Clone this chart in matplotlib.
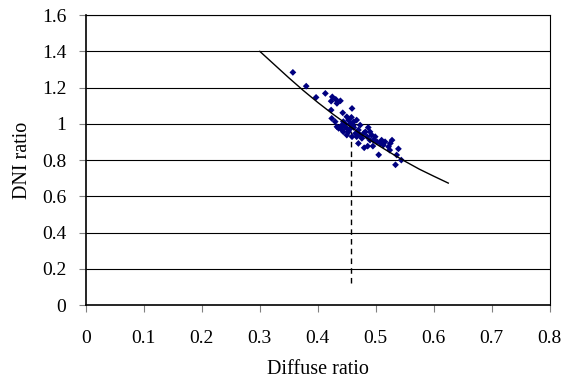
import numpy as np
import matplotlib
matplotlib.use("Agg")
import matplotlib.pyplot as plt

plt.rcParams['font.family'] = ['Liberation Serif', 'DejaVu Serif']

# measured points (diffuse ratio, DNI ratio)
diffuse = [0.357, 0.380, 0.397, 0.413, 0.425, 0.423, 0.431, 0.439, 0.433, 0.423,
           0.443, 0.459, 0.450, 0.424, 0.430, 0.444, 0.453, 0.467, 0.436, 0.442,
           0.447, 0.453, 0.462, 0.470, 0.473, 0.479, 0.487, 0.467, 0.476, 0.470,
           0.485, 0.493, 0.496, 0.486, 0.480, 0.502, 0.510, 0.516, 0.495, 0.522,
           0.528, 0.539, 0.524, 0.505, 0.536, 0.544, 0.534, 0.458, 0.439, 0.444,
           0.450, 0.456, 0.462, 0.465, 0.459, 0.450, 0.442, 0.433, 0.490, 0.499,
           0.508, 0.513, 0.525, 0.482, 0.490, 0.473, 0.447, 0.455, 0.461, 0.468]
dni = [1.284, 1.208, 1.146, 1.168, 1.149, 1.125, 1.135, 1.127, 1.113, 1.076,
       1.061, 1.085, 1.039, 1.030, 1.012, 1.012, 1.021, 1.021, 0.975, 0.966,
       0.984, 0.956, 0.980, 0.966, 0.993, 0.947, 0.980, 0.929, 0.920, 0.892,
       0.929, 0.938, 0.910, 0.877, 0.868, 0.901, 0.910, 0.901, 0.877, 0.874,
       0.910, 0.862, 0.855, 0.829, 0.828, 0.800, 0.774, 1.036, 0.984, 0.956,
       0.975, 1.002, 1.011, 0.947, 0.929, 0.938, 0.993, 0.984, 0.910, 0.929,
       0.892, 0.883, 0.892, 0.956, 0.956, 0.938, 1.000, 0.970, 0.990, 0.950]

# trend line
fit_x = [0.300, 0.325, 0.350, 0.375, 0.400, 0.425, 0.450, 0.475,
         0.500, 0.525, 0.550, 0.575, 0.600, 0.625]
fit_y = [1.400, 1.327, 1.254, 1.184, 1.118, 1.056, 0.998, 0.942,
         0.890, 0.841, 0.794, 0.750, 0.711, 0.673]

# dashed marker line
mark_x = 0.458
mark_y = [0.12, 0.99]

fig = plt.figure(figsize=(5.65, 3.78), dpi=100)
ax = fig.add_axes([0.152, 0.193, 0.821, 0.767])

for yv in np.arange(0.2, 1.61, 0.2):
    ax.axhline(yv, color='black', lw=0.8, zorder=1)

ax.plot([mark_x, mark_x], mark_y, color='black', lw=1.0, ls=(0, (4, 3)), zorder=2)
ax.scatter(diffuse, dni, marker='D', s=12, color='#000080', edgecolors='none', zorder=3)
ax.plot(fit_x, fit_y, color='black', lw=1.0, zorder=4)

ax.set_xlim(0, 0.8)
ax.set_ylim(0, 1.6)
ax.set_xticks(np.arange(0, 0.81, 0.1))
ax.set_xticklabels(['0', '0.1', '0.2', '0.3', '0.4', '0.5', '0.6', '0.7', '0.8'])
ax.set_yticks(np.arange(0, 1.61, 0.2))
ax.set_yticklabels(['0', '0.2', '0.4', '0.6', '0.8', '1', '1.2', '1.4', '1.6'])
ax.tick_params(direction='out', length=5, width=0.8, color='#808080', labelsize=14)
ax.tick_params(axis='x', pad=13)
ax.tick_params(axis='y', pad=9)
for s in ax.spines.values():
    s.set_color('black')
    s.set_linewidth(0.8)
ax.spines['left'].set_linewidth(1.2)
ax.spines['bottom'].set_linewidth(1.2)

ax.set_xlabel('Diffuse ratio', fontsize=14.5)
ax.set_ylabel('DNI ratio', fontsize=14.5)
ax.xaxis.set_label_coords(0.5, -0.188)
ax.yaxis.set_label_coords(-0.116, 0.5)

fig.savefig('out.png', dpi=100)
